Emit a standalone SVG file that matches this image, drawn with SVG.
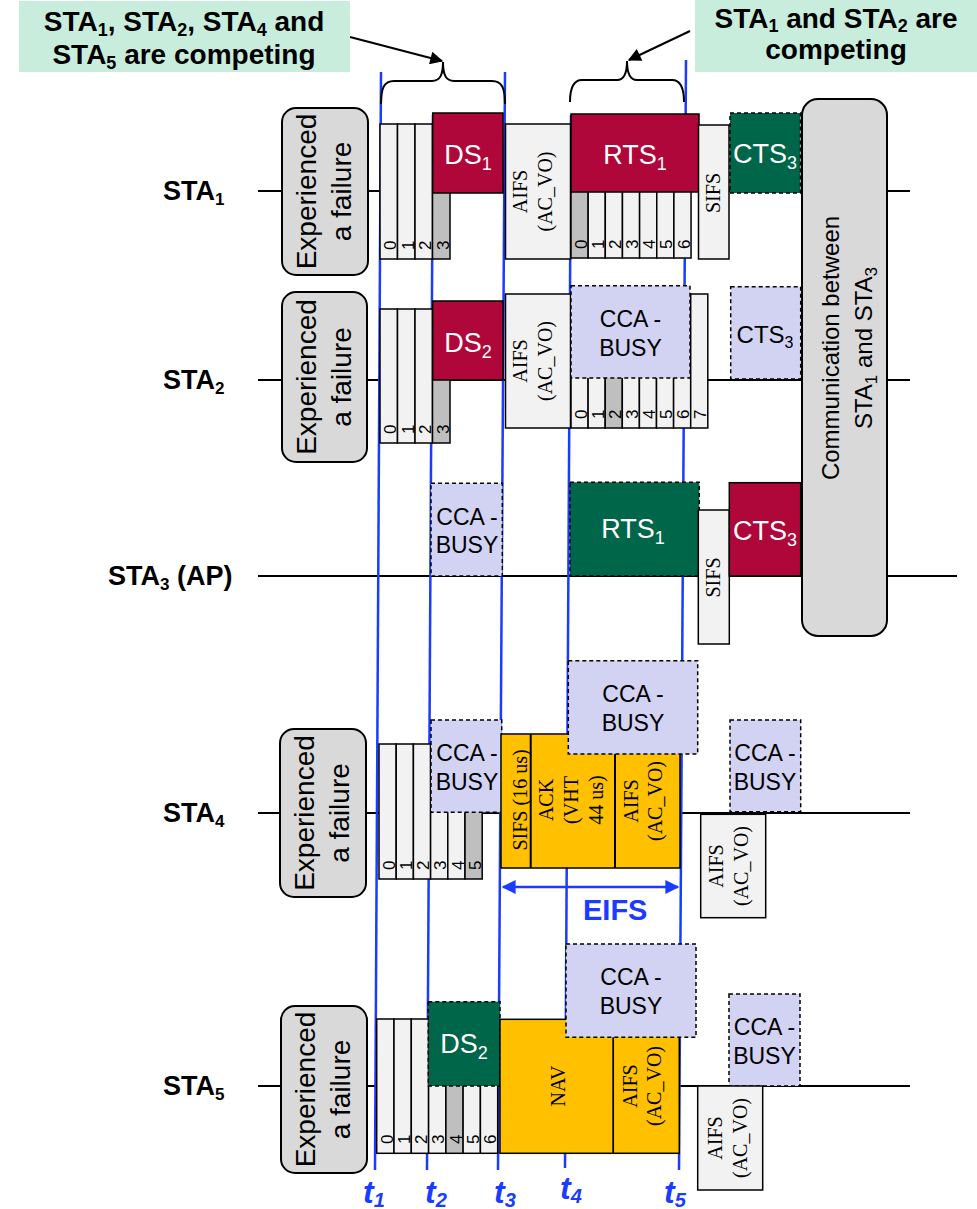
<svg xmlns="http://www.w3.org/2000/svg" width="977" height="1209" viewBox="0 0 977 1209">
<style>
.tl{stroke:#000;stroke-width:2;fill:none}
.tline{stroke:#1a3cff;stroke-width:2.5;fill:none}
.slot{fill:#f2f2f2;stroke:#000;stroke-width:1.5}
.gslot{fill:#bfbfbf;stroke:#000;stroke-width:1.5}
.red{fill:#b0073a;stroke:#000;stroke-width:1.5}
.grn{fill:#00664a;stroke:#000;stroke-width:1.5;stroke-dasharray:4 3}
.cca{fill:#d2d2f3;stroke:#000;stroke-width:1.5;stroke-dasharray:4 3}
.org{fill:#ffc000;stroke:#000;stroke-width:1.5}
.fail{fill:#d9d9d9;stroke:#000;stroke-width:2}
.num{font-family:"Liberation Sans",Arial,sans-serif;font-size:17px;fill:#000}
.tm{font-family:"Liberation Serif","Times New Roman",serif;font-size:20px;fill:#000}
.wl{font-family:"Liberation Sans",Arial,sans-serif;font-size:27px;fill:#fff}
.bl{font-family:"Liberation Sans",Arial,sans-serif;font-size:24px;fill:#000}
.ct{font-family:"Liberation Sans",Arial,sans-serif;font-size:23px;fill:#000}
.big{font-family:"Liberation Sans",Arial,sans-serif;font-size:28px;fill:#000}
.lab{font-family:"Liberation Sans",Arial,sans-serif;font-size:27px;font-weight:bold;fill:#000}
.co{font-family:"Liberation Sans",Arial,sans-serif;font-size:28px;font-weight:bold;fill:#000}
.tlab{font-family:"Liberation Sans",Arial,sans-serif;font-size:32px;font-weight:bold;font-style:italic;fill:#1a3cff}
.callbg{fill:#c9eddc}
</style>
<defs>
<marker id="ah" viewBox="0 0 10 10" refX="9" refY="5" markerWidth="16" markerHeight="13" orient="auto" markerUnits="userSpaceOnUse"><path d="M0,0 L10,5 L0,10 z" fill="#000"/></marker>
<marker id="bh" viewBox="0 0 10 10" refX="9" refY="5" markerWidth="16" markerHeight="14" orient="auto-start-reverse" markerUnits="userSpaceOnUse"><path d="M0,0 L10,5 L0,10 z" fill="#1a3cff"/></marker>
</defs>

<g id="timelines">
<line class="tl" x1="258" y1="191" x2="910" y2="191"/>
<line class="tl" x1="258" y1="380" x2="910" y2="380"/>
<line class="tl" x1="258" y1="576" x2="957" y2="576"/>
<line class="tl" x1="258" y1="813" x2="910" y2="813"/>
<line class="tl" x1="258" y1="1086" x2="910" y2="1086"/>
</g>

<g id="connectors">
<line class="tline" x1="381" y1="72" x2="375" y2="1170"/>
<line class="tline" x1="433" y1="115" x2="427" y2="1170"/>
<line class="tline" x1="505" y1="72" x2="498" y2="1170"/>
<line class="tline" x1="571" y1="115" x2="565" y2="1168"/>
<line class="tline" x1="686" y1="60" x2="679" y2="1170"/>
<path class="tl" d="M381,104 C381,88 384,81 394,81 L432,81 C440,81 443,75 443,62 C443,75 446,81 454,81 L492,81 C502,81 505,88 505,104"/>
<path class="tl" d="M570,102 C570,88 573,80 582,80 L617,80 C624,80 627,74 627,61 C627,74 630,80 637,80 L672,80 C681,80 684,88 684,102"/>
<line class="tl" x1="350" y1="37" x2="442" y2="61" marker-end="url(#ah)"/>
<line class="tl" x1="690" y1="31" x2="629" y2="60" marker-end="url(#ah)"/>
<line class="tline" x1="503" y1="887" x2="678" y2="887" marker-start="url(#bh)" marker-end="url(#bh)"/>
</g>

<g id="callout-left">
<rect class="callbg" x="19" y="1" width="331" height="71"/>
<text class="co" x="184" y="31" text-anchor="middle">STA<tspan dy="5" font-size="18">1</tspan><tspan dy="-5">, STA</tspan><tspan dy="5" font-size="18">2</tspan><tspan dy="-5">, STA</tspan><tspan dy="5" font-size="18">4</tspan><tspan dy="-5"> and</tspan></text>
<text class="co" x="184" y="64" text-anchor="middle">STA<tspan dy="5" font-size="18">5</tspan><tspan dy="-5"> are competing</tspan></text>
</g>
<g id="callout-right">
<rect class="callbg" x="695" y="0" width="282" height="72"/>
<text class="co" x="836" y="28" text-anchor="middle">STA<tspan dy="4" font-size="18">1</tspan><tspan dy="-4"> and STA</tspan><tspan dy="4" font-size="18">2</tspan><tspan dy="-4"> are</tspan></text>
<text class="co" x="836" y="59" text-anchor="middle">competing</text>
</g>

<g id="labels">
<text class="lab" x="163" y="200">STA<tspan dy="5" font-size="17">1</tspan></text>
<text class="lab" x="163" y="389">STA<tspan dy="5" font-size="17">2</tspan></text>
<text class="lab" x="108" y="585">STA<tspan dy="5" font-size="17">3</tspan><tspan dy="-5"> (AP)</tspan></text>
<text class="lab" x="163" y="822">STA<tspan dy="5" font-size="17">4</tspan></text>
<text class="lab" x="163" y="1095">STA<tspan dy="5" font-size="17">5</tspan></text>
</g>

<g id="sta1-fail">
<rect class="fail" x="282" y="108" width="86" height="167" rx="14"/>
<text class="big" text-anchor="middle" transform="translate(282,191.5) rotate(-90)"><tspan x="0" y="34">Experienced</tspan><tspan x="0" y="69">a failure</tspan></text>
</g>
<g id="sta1-backoff">
<rect class="slot" x="380" y="124" width="17.5" height="135"/>
<rect class="slot" x="397.5" y="124" width="17.5" height="135"/>
<rect class="slot" x="415" y="124" width="17.5" height="135"/>
<rect class="gslot" x="432.5" y="124" width="17.5" height="135"/>
<text class="num" transform="translate(396,250) rotate(-90)">0</text>
<text class="num" transform="translate(413.5,250) rotate(-90)">1</text>
<text class="num" transform="translate(431,250) rotate(-90)">2</text>
<text class="num" transform="translate(448.5,250) rotate(-90)">3</text>
</g>
<g id="sta1-ds1">
<rect class="red" x="432.7" y="113" width="70.3" height="80"/>
<text class="wl" x="468" y="164" text-anchor="middle">DS<tspan dy="6" font-size="18">1</tspan></text>
</g>
<g id="sta1-aifs">
<rect class="slot" x="505.5" y="124" width="65" height="135"/>
<text class="tm" text-anchor="middle" transform="translate(527,191.5) rotate(-90)"><tspan x="0" y="0">AIFS</tspan><tspan x="0" y="25">(AC_VO)</tspan></text>
</g>
<g id="sta1-backoff2">
<rect class="gslot" x="571" y="150" width="17.15" height="108"/>
<rect class="slot" x="588.15" y="150" width="17.15" height="108"/>
<rect class="slot" x="605.3" y="150" width="17.15" height="108"/>
<rect class="slot" x="622.45" y="150" width="17.15" height="108"/>
<rect class="slot" x="639.6" y="150" width="17.15" height="108"/>
<rect class="slot" x="656.75" y="150" width="17.15" height="108"/>
<rect class="slot" x="673.9" y="150" width="17.15" height="108"/>
<text class="num" transform="translate(586.6,249) rotate(-90)">0</text>
<text class="num" transform="translate(603.8,249) rotate(-90)">1</text>
<text class="num" transform="translate(620.9,249) rotate(-90)">2</text>
<text class="num" transform="translate(638.1,249) rotate(-90)">3</text>
<text class="num" transform="translate(655.2,249) rotate(-90)">4</text>
<text class="num" transform="translate(672.4,249) rotate(-90)">5</text>
<text class="num" transform="translate(689.5,249) rotate(-90)">6</text>
</g>
<g id="sta1-rts1">
<rect class="red" x="571" y="114" width="128" height="78"/>
<text class="wl" x="635" y="164" text-anchor="middle">RTS<tspan dy="6" font-size="18">1</tspan></text>
</g>
<g id="sta1-sifs">
<rect class="slot" x="698.5" y="125" width="30.5" height="134"/>
<text class="tm" text-anchor="middle" transform="translate(720,193) rotate(-90)">SIFS</text>
</g>
<g id="sta1-cts3">
<rect class="grn" x="730" y="113" width="70.5" height="80"/>
<text class="wl" x="765" y="163" text-anchor="middle">CTS<tspan dy="6" font-size="18">3</tspan></text>
</g>
<g id="communication">
<rect class="fail" x="802" y="99" width="85" height="537" rx="16"/>
<text class="bl" font-size="26" text-anchor="middle" transform="translate(802,348) rotate(-90)"><tspan x="0" y="37">Communication between</tspan><tspan x="0" y="70">STA</tspan><tspan dy="5" font-size="17">1</tspan><tspan dy="-5"> and STA</tspan><tspan dy="5" font-size="17">3</tspan></text>
</g>

<g id="sta2-fail">
<rect class="fail" x="282" y="292" width="85" height="170" rx="14"/>
<text class="big" text-anchor="middle" transform="translate(282,377) rotate(-90)"><tspan x="0" y="34">Experienced</tspan><tspan x="0" y="69">a failure</tspan></text>
</g>
<g id="sta2-backoff">
<rect class="slot" x="380" y="309" width="17.5" height="134"/>
<rect class="slot" x="397.5" y="309" width="17.5" height="134"/>
<rect class="slot" x="415" y="309" width="17.5" height="134"/>
<rect class="gslot" x="432.5" y="309" width="17.5" height="134"/>
<text class="num" transform="translate(396,434) rotate(-90)">0</text>
<text class="num" transform="translate(413.5,434) rotate(-90)">1</text>
<text class="num" transform="translate(431,434) rotate(-90)">2</text>
<text class="num" transform="translate(448.5,434) rotate(-90)">3</text>
</g>
<g id="sta2-ds2">
<rect class="red" x="432.7" y="301" width="70.3" height="79"/>
<text class="wl" x="468" y="352" text-anchor="middle">DS<tspan dy="6" font-size="18">2</tspan></text>
</g>
<g id="sta2-aifs">
<rect class="slot" x="505.5" y="294" width="65" height="134"/>
<text class="tm" text-anchor="middle" transform="translate(527,361) rotate(-90)"><tspan x="0" y="0">AIFS</tspan><tspan x="0" y="25">(AC_VO)</tspan></text>
</g>
<g id="sta2-backoff2">
<rect class="slot" x="571" y="294" width="17.1" height="134"/>
<rect class="slot" x="588.1" y="294" width="17.1" height="134"/>
<rect class="gslot" x="605.2" y="294" width="17.1" height="134"/>
<rect class="slot" x="622.3" y="294" width="17.1" height="134"/>
<rect class="slot" x="639.4" y="294" width="17.1" height="134"/>
<rect class="slot" x="656.5" y="294" width="17.1" height="134"/>
<rect class="slot" x="673.6" y="294" width="17.1" height="134"/>
<rect class="slot" x="690.7" y="294" width="17.1" height="134"/>
<text class="num" transform="translate(586.6,419) rotate(-90)">0</text>
<text class="num" transform="translate(603.7,419) rotate(-90)">1</text>
<text class="num" transform="translate(620.8,419) rotate(-90)">2</text>
<text class="num" transform="translate(637.9,419) rotate(-90)">3</text>
<text class="num" transform="translate(655,419) rotate(-90)">4</text>
<text class="num" transform="translate(672.1,419) rotate(-90)">5</text>
<text class="num" transform="translate(689.2,419) rotate(-90)">6</text>
<text class="num" transform="translate(706.3,419) rotate(-90)">7</text>
</g>
<g id="sta2-cca">
<rect class="cca" x="571" y="285.7" width="119" height="92.3"/>
<text class="ct" text-anchor="middle"><tspan x="630.5" y="327">CCA -</tspan><tspan x="630.5" y="356">BUSY</tspan></text>
</g>
<g id="sta2-cts3">
<rect class="cca" x="730.7" y="286.7" width="70" height="92.3"/>
<text class="bl" x="765" y="343" text-anchor="middle">CTS<tspan dy="5" font-size="16">3</tspan></text>
</g>

<g id="sta3-cca">
<rect class="cca" x="431" y="483.3" width="71.3" height="92.7"/>
<text class="ct" text-anchor="middle"><tspan x="467" y="525">CCA -</tspan><tspan x="467" y="553">BUSY</tspan></text>
</g>
<g id="sta3-rts1">
<rect class="grn" x="570" y="482.3" width="129.3" height="93.7"/>
<text class="wl" x="633" y="538" text-anchor="middle">RTS<tspan dy="6" font-size="18">1</tspan></text>
</g>
<g id="sta3-sifs">
<rect class="slot" x="698.3" y="510" width="31" height="134"/>
<text class="tm" text-anchor="middle" transform="translate(720,577.5) rotate(-90)">SIFS</text>
</g>
<g id="sta3-cts3">
<rect class="red" x="729.3" y="482.7" width="71.4" height="93.3"/>
<text class="wl" x="765" y="540" text-anchor="middle">CTS<tspan dy="6" font-size="18">3</tspan></text>
</g>

<g id="sta4-fail">
<rect class="fail" x="280" y="729" width="86" height="168" rx="14"/>
<text class="big" text-anchor="middle" transform="translate(280,813) rotate(-90)"><tspan x="0" y="34">Experienced</tspan><tspan x="0" y="69">a failure</tspan></text>
</g>
<g id="sta4-backoff">
<rect class="slot" x="379" y="744" width="17.2" height="135"/>
<rect class="slot" x="396.2" y="744" width="17.2" height="135"/>
<rect class="slot" x="413.4" y="744" width="17.2" height="135"/>
<rect class="slot" x="430.6" y="744" width="17.2" height="135"/>
<rect class="slot" x="447.8" y="744" width="17.2" height="135"/>
<rect class="gslot" x="465" y="744" width="17.2" height="135"/>
<text class="num" transform="translate(394.7,870) rotate(-90)">0</text>
<text class="num" transform="translate(411.9,870) rotate(-90)">1</text>
<text class="num" transform="translate(429.1,870) rotate(-90)">2</text>
<text class="num" transform="translate(446.3,870) rotate(-90)">3</text>
<text class="num" transform="translate(463.5,870) rotate(-90)">4</text>
<text class="num" transform="translate(480.7,870) rotate(-90)">5</text>
</g>
<g id="sta4-cca1">
<rect class="cca" x="431" y="720" width="70.7" height="92.3"/>
<text class="ct" text-anchor="middle"><tspan x="467" y="761">CCA -</tspan><tspan x="467" y="790">BUSY</tspan></text>
</g>
<g id="sta4-eifs-frames">
<rect class="org" x="501" y="734" width="179" height="134"/>
<line class="tl" x1="530.7" y1="734" x2="530.7" y2="868" stroke-width="1.5"/>
<line class="tl" x1="615" y1="734" x2="615" y2="868" stroke-width="1.5"/>
<text class="tm" font-size="19" text-anchor="middle" transform="translate(527,800) rotate(-90)">SIFS (16 us)</text>
<text class="tm" text-anchor="middle" transform="translate(553,800) rotate(-90)"><tspan x="0" y="0">ACK</tspan><tspan x="0" y="25">(VHT</tspan><tspan x="0" y="50">44 us)</tspan></text>
<text class="tm" text-anchor="middle" transform="translate(638,801) rotate(-90)"><tspan x="0" y="0">AIFS</tspan><tspan x="0" y="24">(AC_VO)</tspan></text>
</g>
<g id="sta4-cca2">
<rect class="cca" x="568.3" y="660.7" width="129.4" height="93.3"/>
<text class="ct" text-anchor="middle"><tspan x="633" y="702">CCA -</tspan><tspan x="633" y="731">BUSY</tspan></text>
</g>
<g id="sta4-cca3">
<rect class="cca" x="730" y="720" width="70.7" height="91.7"/>
<text class="ct" text-anchor="middle"><tspan x="765" y="761">CCA -</tspan><tspan x="765" y="790">BUSY</tspan></text>
</g>
<g id="sta4-aifs">
<rect class="slot" x="700.7" y="814.3" width="65" height="103.4"/>
<text class="tm" text-anchor="middle" transform="translate(723,866) rotate(-90)"><tspan x="0" y="0">AIFS</tspan><tspan x="0" y="25">(AC_VO)</tspan></text>
</g>
<g id="eifs-label">
<text x="583" y="920" font-family="Liberation Sans, Arial, sans-serif" font-size="29" font-weight="bold" fill="#1a3cff">EIFS</text>
</g>

<g id="sta5-fail">
<rect class="fail" x="281" y="1006" width="86" height="167" rx="14"/>
<text class="big" text-anchor="middle" transform="translate(281,1089.5) rotate(-90)"><tspan x="0" y="34">Experienced</tspan><tspan x="0" y="69">a failure</tspan></text>
</g>
<g id="sta5-backoff">
<rect class="slot" x="376.7" y="1019" width="17.29" height="134.3"/>
<rect class="slot" x="394" y="1019" width="17.29" height="134.3"/>
<rect class="slot" x="411.3" y="1019" width="17.29" height="134.3"/>
<rect class="slot" x="428.6" y="1019" width="17.29" height="134.3"/>
<rect class="gslot" x="445.9" y="1019" width="17.29" height="134.3"/>
<rect class="slot" x="463.1" y="1019" width="17.29" height="134.3"/>
<rect class="slot" x="480.4" y="1019" width="17.29" height="134.3"/>
<text class="num" transform="translate(392.5,1144) rotate(-90)">0</text>
<text class="num" transform="translate(409.8,1144) rotate(-90)">1</text>
<text class="num" transform="translate(427.1,1144) rotate(-90)">2</text>
<text class="num" transform="translate(444.4,1144) rotate(-90)">3</text>
<text class="num" transform="translate(461.7,1144) rotate(-90)">4</text>
<text class="num" transform="translate(478.9,1144) rotate(-90)">5</text>
<text class="num" transform="translate(496.2,1144) rotate(-90)">6</text>
</g>
<g id="sta5-ds2">
<rect class="grn" x="428.3" y="1001.7" width="71.7" height="84.3"/>
<text class="wl" x="464" y="1053" text-anchor="middle">DS<tspan dy="6" font-size="18">2</tspan></text>
</g>
<g id="sta5-nav">
<rect class="org" x="500" y="1019.3" width="113.3" height="134"/>
<text class="tm" font-size="19" text-anchor="middle" transform="translate(565,1086) rotate(-90)">NAV</text>
</g>
<g id="sta5-aifs1">
<rect class="org" x="613.3" y="1019.3" width="66" height="134"/>
<text class="tm" text-anchor="middle" transform="translate(637,1086) rotate(-90)"><tspan x="0" y="0">AIFS</tspan><tspan x="0" y="24">(AC_VO)</tspan></text>
</g>
<g id="sta5-cca1">
<rect class="cca" x="566" y="944" width="130" height="93.3"/>
<text class="ct" text-anchor="middle"><tspan x="631" y="985">CCA -</tspan><tspan x="631" y="1014">BUSY</tspan></text>
</g>
<g id="sta5-cca2">
<rect class="cca" x="729" y="994" width="71" height="92"/>
<text class="ct" text-anchor="middle"><tspan x="764.5" y="1035">CCA -</tspan><tspan x="764.5" y="1064">BUSY</tspan></text>
</g>
<g id="sta5-aifs2">
<rect class="slot" x="697.7" y="1086" width="65" height="104"/>
<text class="tm" text-anchor="middle" transform="translate(722,1138) rotate(-90)"><tspan x="0" y="0">AIFS</tspan><tspan x="0" y="25">(AC_VO)</tspan></text>
</g>

<g id="time-labels">
<text class="tlab" x="363" y="1203">t<tspan dy="4" font-size="20">1</tspan></text>
<text class="tlab" x="425" y="1203">t<tspan dy="4" font-size="20">2</tspan></text>
<text class="tlab" x="494" y="1203">t<tspan dy="4" font-size="20">3</tspan></text>
<text class="tlab" x="560" y="1199">t<tspan dy="4" font-size="20">4</tspan></text>
<text class="tlab" x="664" y="1203">t<tspan dy="4" font-size="20">5</tspan></text>
</g>
</svg>
